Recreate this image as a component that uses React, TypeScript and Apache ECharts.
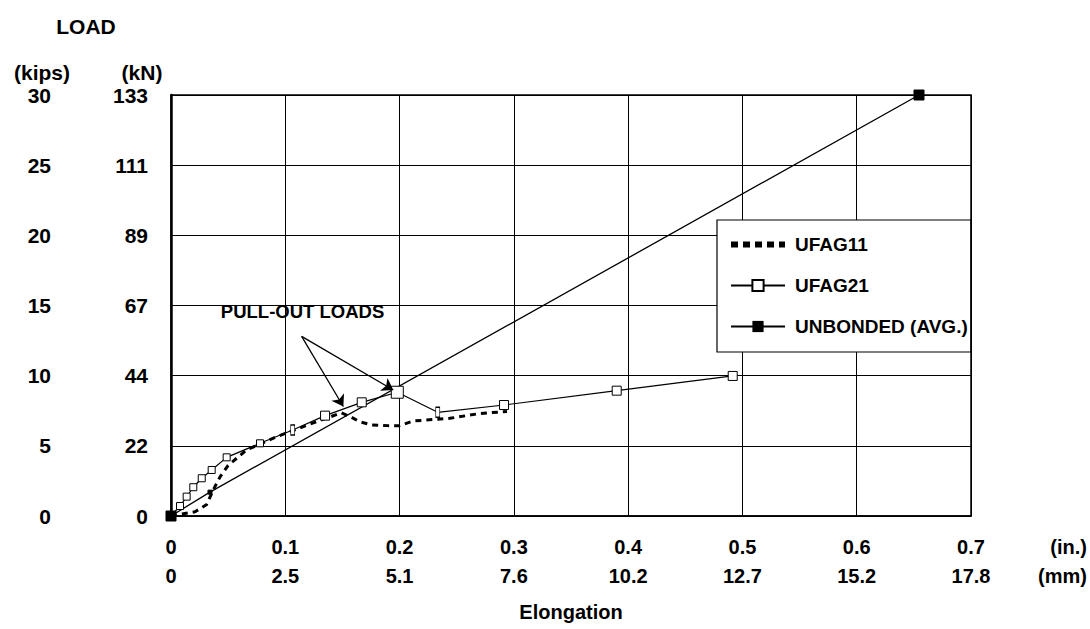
import React, { useEffect, useRef } from 'react';
import * as echarts from 'echarts';

// Tick labels
const IN_LABELS = ['0', '0.1', '0.2', '0.3', '0.4', '0.5', '0.6', '0.7'];
const MM_LABELS = ['0', '2.5', '5.1', '7.6', '10.2', '12.7', '15.2', '17.8'];
const KIPS_LABELS = ['0', '5', '10', '15', '20', '25', '30'];
const KN_LABELS = ['0', '22', '44', '67', '89', '111', '133'];

// Series values: [elongation (in.), load (kips)]
const UFAG11 = [
  [0, 0], [0.021, 0.3], [0.031, 0.8], [0.0385, 2.1], [0.043, 2.8], [0.05, 3.6],
  [0.066, 4.7], [0.0925, 5.65], [0.12, 6.5], [0.149, 7.35], [0.157, 7.08],
  [0.165, 6.72], [0.176, 6.49], [0.19, 6.44], [0.2, 6.44], [0.212, 6.77],
  [0.244, 6.96], [0.27, 7.3], [0.294, 7.45],
];
const UFAG21 = [
  [0, 0], [0.0079, 0.71], [0.0137, 1.38], [0.0195, 2.05], [0.0269, 2.69],
  [0.0356, 3.28], [0.0487, 4.18], [0.0779, 5.18], [0.1065, 6.13], [0.1348, 7.15],
  [0.1669, 8.1], [0.198, 8.82], [0.2334, 7.39], [0.2914, 7.91], [0.39, 8.93],
  [0.4915, 9.98],
];
const UNBONDED = [[0, 0], [0.0341, 1.7], [0.6545, 30]];

// Annotation (in data coordinates)
const PULLOUT_TEXT = 'PULL-OUT LOADS';
const PULLOUT_TEXT_AT = [0.1151, 14.6];
const ARROW_FROM = [0.1143, 12.8];
const ARROW_TO = [[0.1508, 7.8], [0.1945, 8.98]];

const FONT = "'Liberation Sans', Arial, Helvetica, sans-serif";

export default function App() {
  const ref = useRef<HTMLDivElement>(null);
  useEffect(() => {
    if (!ref.current) return;
    const chart = echarts.init(ref.current, null, { renderer: 'svg' });
    const idx = (v: number, step: number) => Math.round(v / step);
    const option: any = {
      animation: false,
      backgroundColor: '#fff',
      textStyle: { fontFamily: FONT },
      grid: {
        left: 171, top: 95, right: 119, bottom: 113,
        show: true, borderColor: '#000', borderWidth: 1.5, backgroundColor: 'transparent',
      },
      legend: {
        orient: 'vertical',
        left: 717, top: 220,
        padding: [15, 3, 16, 11],
        itemGap: 22,
        itemWidth: 54,
        itemHeight: 14,
        borderColor: '#000',
        borderWidth: 1.2,
        backgroundColor: '#fff',
        textStyle: { fontSize: 19, fontWeight: 'bold', color: '#000', fontFamily: FONT, padding: [0, 0, 0, 5] },
        data: [
          { name: 'UFAG11', lineStyle: { width: 6, type: [7, 5] }, itemStyle: { opacity: 0 } },
          { name: 'UFAG21' },
          { name: 'UNBONDED (AVG.)' },
        ],
      },
      xAxis: [
        {
          type: 'value', min: 0, max: 0.7, interval: 0.1,
          axisLine: { show: true, lineStyle: { color: '#000', width: 1.5 } },
          axisTick: { show: false },
          splitLine: { show: true, lineStyle: { color: '#000', width: 1 } },
          axisLabel: {
            margin: 21, fontSize: 20, fontWeight: 'bold', color: '#000', fontFamily: FONT,
            formatter: (v: number) => IN_LABELS[idx(v, 0.1)] ?? '',
          },
        },
        {
          type: 'value', min: 0, max: 0.7, interval: 0.1, position: 'bottom',
          axisLine: { show: false }, axisTick: { show: false }, splitLine: { show: false },
          axisLabel: {
            margin: 50, fontSize: 20, fontWeight: 'bold', color: '#000', fontFamily: FONT,
            formatter: (v: number) => MM_LABELS[idx(v, 0.1)] ?? '',
          },
          name: 'Elongation', nameLocation: 'middle', nameGap: 86,
          nameTextStyle: { fontSize: 20, fontWeight: 'bold', color: '#000', fontFamily: FONT },
        },
      ],
      yAxis: [
        {
          type: 'value', min: 0, max: 30, interval: 5,
          axisLine: { show: true, lineStyle: { color: '#000', width: 2.5 } },
          axisTick: { show: false },
          splitLine: { show: true, lineStyle: { color: '#000', width: 1 } },
          axisLabel: {
            margin: 120, fontSize: 21, fontWeight: 'bold', color: '#000', fontFamily: FONT,
            padding: [12, 0, 0, 0],
            formatter: (v: number) => KIPS_LABELS[idx(v, 5)] ?? '',
          },
        },
        {
          type: 'value', min: 0, max: 30, interval: 5, position: 'left',
          axisLine: { show: false }, axisTick: { show: false }, splitLine: { show: false },
          axisLabel: {
            margin: 23, fontSize: 21, fontWeight: 'bold', color: '#000', fontFamily: FONT,
            padding: [12, 0, 0, 0],
            formatter: (v: number) => KN_LABELS[idx(v, 5)] ?? '',
          },
        },
      ],
      series: [
        {
          name: 'UFAG11', type: 'line', data: UFAG11, xAxisIndex: 0, yAxisIndex: 0,
          symbol: 'none', smooth: false,
          itemStyle: { color: '#000' },
          lineStyle: { color: '#000', width: 3, type: [6, 5] },
        },
        {
          name: 'UFAG21', type: 'line', data: UFAG21, xAxisIndex: 0, yAxisIndex: 0,
          symbol: 'rect',
          symbolSize: (_v: any, p: any) => {
            const i = p.dataIndex;
            if (i === 8 || i === 12) return [4, 10];
            if (i === 11) return 12;
            if (i >= 1 && i <= 7) return 7;
            return 9;
          },
          showAllSymbol: true,
          itemStyle: { color: '#fff', borderColor: '#000', borderWidth: 1 },
          lineStyle: { color: '#000', width: 1.2 },
          markLine: {
            silent: true,
            symbol: ['none', 'arrow'],
            symbolSize: 11,
            lineStyle: { color: '#000', width: 1.3, type: 'solid' },
            label: { show: false },
            data: ARROW_TO.map((t) => [{ coord: ARROW_FROM }, { coord: t }]),
          },
          markPoint: {
            silent: true,
            symbol: 'rect',
            symbolSize: 1,
            itemStyle: { color: 'rgba(0,0,0,0)' },
            label: {
              show: true, position: 'inside', formatter: PULLOUT_TEXT,
              color: '#000', fontSize: 18.5, fontWeight: 'bold', fontFamily: FONT,
            },
            data: [{ coord: PULLOUT_TEXT_AT }],
          },
        },
        {
          name: 'UNBONDED (AVG.)', type: 'line', data: UNBONDED, xAxisIndex: 0, yAxisIndex: 0,
          symbol: 'rect',
          symbolSize: (_v: any, p: any) => (p.dataIndex === 1 ? 4 : 10),
          itemStyle: { color: '#000', borderColor: '#000' },
          lineStyle: { color: '#000', width: 1.3 },
        },
      ],
      graphic: [
        { type: 'text', x: 86, y: 26, style: { text: 'LOAD', fill: '#000', font: `bold 21px ${FONT}`, align: 'center', verticalAlign: 'middle' } },
        { type: 'text', x: 42, y: 72, style: { text: '(kips)', fill: '#000', font: `bold 21px ${FONT}`, align: 'center', verticalAlign: 'middle' } },
        { type: 'text', x: 142, y: 72, style: { text: '(kN)', fill: '#000', font: `bold 21px ${FONT}`, align: 'center', verticalAlign: 'middle' } },
        { type: 'text', x: 1087, y: 547, style: { text: '(in.)', fill: '#000', font: `bold 20px ${FONT}`, align: 'right', verticalAlign: 'middle' } },
        { type: 'text', x: 1087, y: 576, style: { text: '(mm)', fill: '#000', font: `bold 20px ${FONT}`, align: 'right', verticalAlign: 'middle' } },
      ],
    };
    chart.setOption(option);
    return () => chart.dispose();
  }, []);
  return (
    <div
      ref={ref}
      style={{ position: 'fixed', left: 0, top: 0, width: 1090, height: 629, background: '#fff' }}
    />
  );
}
